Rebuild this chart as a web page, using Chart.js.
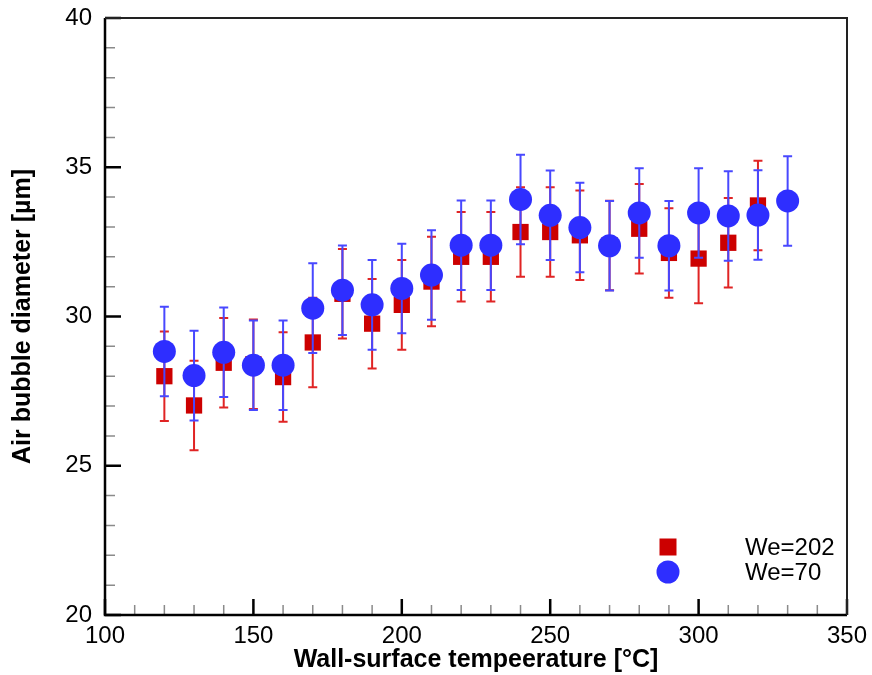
<!DOCTYPE html>
<html>
<head>
<meta charset="utf-8">
<script src="https://cdn.jsdelivr.net/npm/chart.js@4.4.1/dist/chart.umd.min.js"></script>
<style>
  html, body { margin: 0; padding: 0; background: #fff; }
  #wrap { width: 872px; height: 675px; }
</style>
</head>
<body>
<div id="wrap"><canvas id="c" width="872" height="675"></canvas></div>
<script>
// ---- data ----
const seriesLabels = ['We=202', 'We=70'];
const tempsWe202 = [120,130,140,150,160,170,180,190,200,210,220,230,240,250,260,270,280,290,300,310,320];
const diamWe202  = [28.0,27.02,28.45,28.4,27.97,29.13,30.76,29.76,30.39,31.17,32.0,32.0,32.83,32.83,32.72,32.38,32.94,32.13,31.94,32.47,33.72];
const errWe202   = [1.5,1.5,1.5,1.5,1.5,1.5,1.5,1.5,1.5,1.5,1.5,1.5,1.5,1.5,1.5,1.5,1.5,1.5,1.5,1.5,1.5];
const tempsWe70  = [120,130,140,150,160,170,180,190,200,210,220,230,240,250,260,270,280,290,300,310,320,330];
const diamWe70   = [28.83,28.02,28.8,28.37,28.37,30.28,30.88,30.39,30.94,31.39,32.39,32.39,33.92,33.39,32.98,32.37,33.47,32.37,33.47,33.37,33.4,33.87];
const errWe70    = [1.5,1.5,1.5,1.5,1.5,1.5,1.5,1.5,1.5,1.5,1.5,1.5,1.5,1.5,1.5,1.5,1.5,1.5,1.5,1.5,1.5,1.5];
const xTicksMajor = [100,150,200,250,300,350];
const yTicksMajor = [20,25,30,35,40];
const xTitle = 'Wall-surface tempeerature [°C]';
const yTitle = 'Air bubble diameter [µm]';

const FONT = '"Liberation Sans", Arial, Helvetica, sans-serif';
const RED = '#cc0000', RED_ERR = '#e02424';
const BLUE = '#2e2eff', BLUE_ERR = '#4848ff';

const toXY = (xs, ys) => xs.map((x, i) => ({ x: x, y: ys[i] }));

const errorBarPlugin = {
  id: 'errorBars',
  beforeDatasetDraw(chart, args) {
    const ds = chart.data.datasets[args.index];
    if (!ds.errors) return;
    const xs = chart.scales.x, ys = chart.scales.y, ctx = chart.ctx;
    ctx.save();
    ctx.strokeStyle = ds.errColor;
    ctx.lineWidth = 2;
    ds.data.forEach((p, i) => {
      const e = ds.errors[i];
      const px = xs.getPixelForValue(p.x);
      const pt = ys.getPixelForValue(p.y + e);
      const pb = ys.getPixelForValue(p.y - e);
      ctx.beginPath();
      ctx.moveTo(px, pt); ctx.lineTo(px, pb);
      ctx.moveTo(px - 4.5, pt); ctx.lineTo(px + 4.5, pt);
      ctx.moveTo(px - 4.5, pb); ctx.lineTo(px + 4.5, pb);
      ctx.stroke();
    });
    ctx.restore();
  }
};

const framePlugin = {
  id: 'frame',
  afterDraw(chart) {
    const { ctx, chartArea: a } = chart;
    const xs = chart.scales.x, ys = chart.scales.y;
    ctx.save();
    // minor ticks
    ctx.strokeStyle = '#8a8a8a';
    ctx.lineWidth = 1.5;
    ctx.beginPath();
    for (let v = xs.min; v <= xs.max + 1e-9; v += 10) {
      if (xTicksMajor.includes(v)) continue;
      const px = xs.getPixelForValue(v);
      ctx.moveTo(px, a.bottom); ctx.lineTo(px, a.bottom - 10);
    }
    for (let v = ys.min; v <= ys.max + 1e-9; v += 1) {
      if (yTicksMajor.includes(v)) continue;
      const py = ys.getPixelForValue(v);
      ctx.moveTo(a.left, py); ctx.lineTo(a.left + 10, py);
    }
    ctx.stroke();
    // major ticks
    ctx.strokeStyle = '#000';
    ctx.lineWidth = 2.5;
    ctx.beginPath();
    xTicksMajor.forEach(v => {
      const px = xs.getPixelForValue(v);
      ctx.moveTo(px, a.bottom); ctx.lineTo(px, a.bottom - 16);
    });
    yTicksMajor.forEach(v => {
      const py = ys.getPixelForValue(v);
      ctx.moveTo(a.left, py); ctx.lineTo(a.left + 16, py);
    });
    ctx.stroke();
    // frame
    ctx.lineWidth = 2.5;
    ctx.strokeStyle = '#000';
    ctx.beginPath();
    ctx.moveTo(a.left, a.top); ctx.lineTo(a.left, a.bottom); ctx.lineTo(a.right, a.bottom);
    ctx.stroke();
    ctx.lineWidth = 2;
    ctx.strokeStyle = '#222';
    ctx.beginPath();
    ctx.moveTo(a.left, a.top); ctx.lineTo(a.right, a.top); ctx.lineTo(a.right, a.bottom);
    ctx.stroke();

    // legend (inside plot, bottom right)
    const lx = a.right - 179, tx = a.right - 102;
    const ly1 = a.bottom - 68, ly2 = a.bottom - 43;
    ctx.fillStyle = RED;
    ctx.fillRect(lx - 8.5, ly1 - 8.5, 17, 17);
    ctx.fillStyle = BLUE;
    ctx.beginPath(); ctx.arc(lx, ly2, 11.5, 0, Math.PI * 2); ctx.fill();
    ctx.fillStyle = '#000';
    ctx.font = '24px ' + FONT;
    ctx.textAlign = 'left';
    ctx.textBaseline = 'middle';
    ctx.fillText(seriesLabels[0], tx, ly1 + 1);
    ctx.fillText(seriesLabels[1], tx, ly2 + 1);
    ctx.restore();
  }
};

new Chart(document.getElementById('c'), {
  type: 'scatter',
  data: {
    datasets: [
      {
        label: seriesLabels[0],
        data: toXY(tempsWe202, diamWe202),
        errors: errWe202,
        errColor: RED_ERR,
        pointStyle: 'rect',
        pointRadius: 11.5,
        backgroundColor: RED,
        borderWidth: 0,
        order: 2
      },
      {
        label: seriesLabels[1],
        data: toXY(tempsWe70, diamWe70),
        errors: errWe70,
        errColor: BLUE_ERR,
        pointStyle: 'circle',
        pointRadius: 11.5,
        backgroundColor: BLUE,
        borderWidth: 0,
        order: 1
      }
    ]
  },
  options: {
    responsive: false,
    animation: false,
    events: [],
    layout: { padding: { top: 18, right: 25, left: 0, bottom: 0 } },
    plugins: { legend: { display: false }, tooltip: { enabled: false } },
    scales: {
      x: {
        type: 'linear', min: 100, max: 350,
        afterBuildTicks: s => { s.ticks = xTicksMajor.map(v => ({ value: v })); },
        ticks: { padding: 7, color: '#000', font: { family: FONT, size: 24 }, maxRotation: 0, autoSkip: false },
        grid: { drawOnChartArea: false, drawTicks: false },
        border: { display: false },
        title: { display: true, text: xTitle, color: '#000', font: { family: FONT, size: 25, weight: 'bold' }, padding: { top: 0, bottom: 0 } },
        afterFit: s => { s.height = 60; s.paddingLeft = 0; s.paddingRight = 0; }
      },
      y: {
        type: 'linear', min: 20, max: 40,
        afterBuildTicks: s => { s.ticks = yTicksMajor.map(v => ({ value: v })); },
        ticks: { padding: 13, color: '#000', font: { family: FONT, size: 24 }, autoSkip: false },
        grid: { drawOnChartArea: false, drawTicks: false },
        border: { display: false },
        title: { display: true, text: yTitle, color: '#000', font: { family: FONT, size: 25, weight: 'bold' }, padding: { top: 8, bottom: 0 } },
        afterFit: s => { s.width = 105; s.paddingTop = 0; s.paddingBottom = 0; }
      }
    }
  },
  plugins: [errorBarPlugin, framePlugin]
});
</script>
</body>
</html>
